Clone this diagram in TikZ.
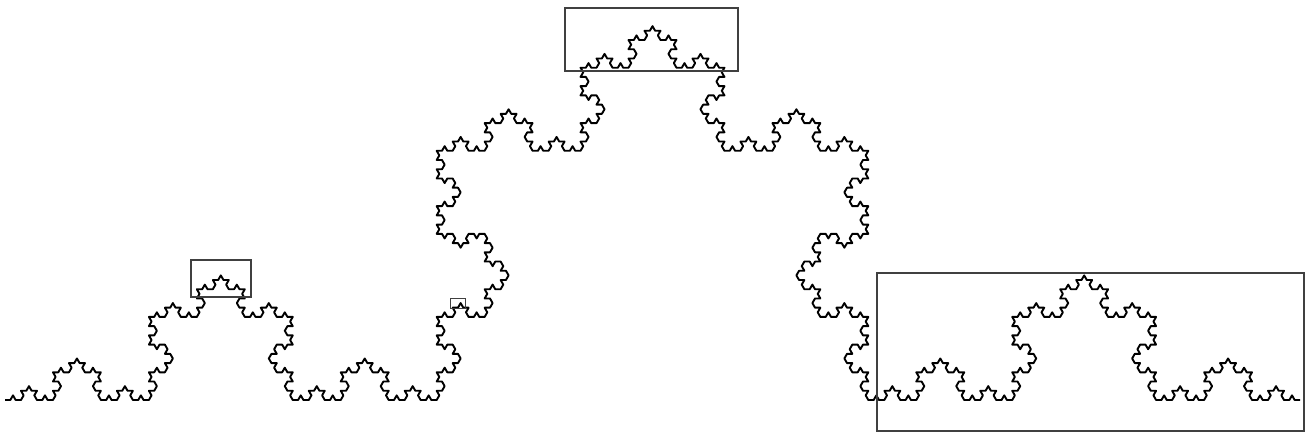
\documentclass[tikz,border=0pt]{standalone}
\usetikzlibrary{lindenmayersystems}

\pgfdeclarelindenmayersystem{Koch bump}{
  \rule{F -> F+F--F+F}
}

\begin{document}
\begin{tikzpicture}[
    x=1pt, y=1pt,
    koch/.style={line width=1.9pt, black, line join=round,
      lindenmayer system={Koch bump, step=5.3292pt, angle=60, axiom=F, order=5}},
    frame/.style={draw=black!75, line width=1.1pt}
]
\useasboundingbox (0,0) rectangle (1306,437);

% Curve
\begin{scope}[shift={(5,37)}]
  \draw[koch] (0,0) lindenmayer system;
\end{scope}

% Frames
\draw[frame] (565,366) rectangle (738,429);
\draw[frame] (191,140) rectangle (251,177);
\draw[frame, line width=0.8pt] (450,129) rectangle (465,139);
\draw[frame] (877,6) rectangle (1304,164);

\end{tikzpicture}
\end{document}
